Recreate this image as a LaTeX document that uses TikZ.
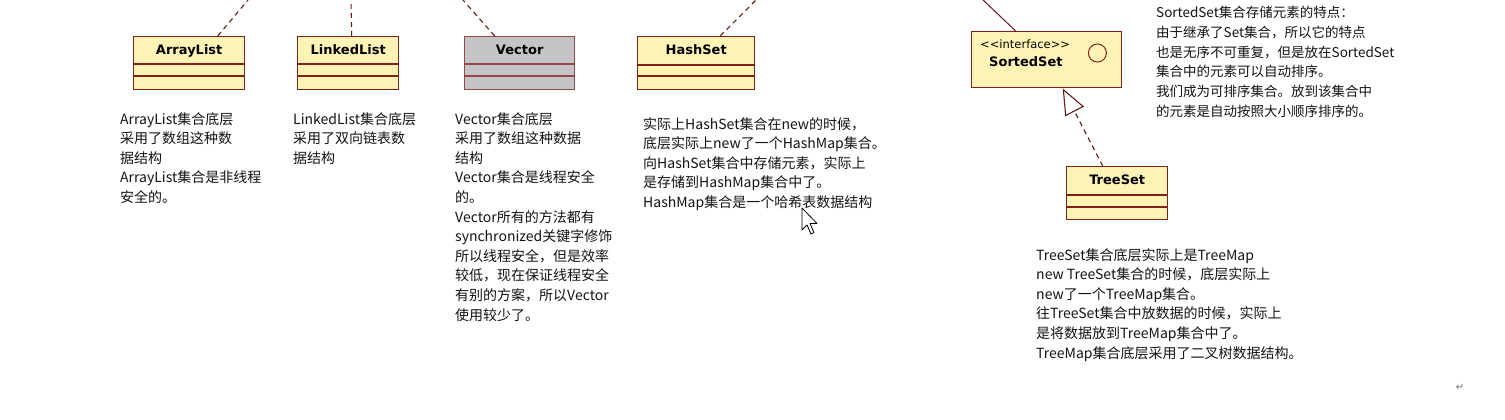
\documentclass[tikz,border=0pt]{standalone}
\usepackage{fontspec}
\setmainfont{DejaVu Sans}
\newfontfamily\cjkfont{Noto Sans CJK SC}
\usetikzlibrary{arrows.meta}
\definecolor{umlfill}{RGB}{255,244,182}
\definecolor{umlline}{RGB}{130,34,24}
\definecolor{vecfill}{RGB}{196,196,198}
\definecolor{vecline}{RGB}{150,70,70}
\definecolor{txt}{RGB}{20,20,20}
\begin{document}
\begin{tikzpicture}[x=1pt,y=-1pt,
 classbox/.style={draw=umlline, fill=umlfill, line width=1.4pt, inner sep=0pt, anchor=north west},
 vecbox/.style={classbox, draw=vecline, fill=vecfill},
 titletext/.style={font=\fontsize{13}{15}\selectfont\bfseries, text=black, anchor=base, inner sep=0pt},
 note/.style={font=\cjkfont\fontsize{14}{19.6}\selectfont, text=txt, align=left, anchor=north west, inner sep=0pt},
 dep/.style={draw=umlline!80!black, line width=1.1pt, dash pattern=on 5pt off 4pt},
 assoc/.style={draw=umlline!80!black, line width=1pt},
 divider/.style={draw=umlline, line width=1.2pt},
 vdivider/.style={draw=vecline, line width=1.2pt}]
\fill[white] (0,0) rectangle (1505,420);
\useasboundingbox (0,0) rectangle (1505,420);

% ArrayList
\node[classbox, minimum width=111, minimum height=53] (arraylist) at (133,36) {};
\draw[divider] ([yshift=-28]arraylist.north west) -- ([yshift=-28]arraylist.north east);
\draw[divider] ([yshift=-40]arraylist.north west) -- ([yshift=-40]arraylist.north east);
\node[titletext] (arraylisttitle) at ([yshift=-18.5]arraylist.north) {ArrayList};

% LinkedList
\node[classbox, minimum width=101, minimum height=53] (linkedlist) at (297,36) {};
\draw[divider] ([yshift=-28]linkedlist.north west) -- ([yshift=-28]linkedlist.north east);
\draw[divider] ([yshift=-40]linkedlist.north west) -- ([yshift=-40]linkedlist.north east);
\node[titletext] (linkedlisttitle) at ([yshift=-18.5]linkedlist.north) {LinkedList};

% Vector
\node[vecbox, minimum width=110, minimum height=53] (vector) at (464,36) {};
\draw[vdivider] ([yshift=-28]vector.north west) -- ([yshift=-28]vector.north east);
\draw[vdivider] ([yshift=-40]vector.north west) -- ([yshift=-40]vector.north east);
\node[titletext] (vectortitle) at ([yshift=-18.5]vector.north) {Vector};

% HashSet
\node[classbox, minimum width=117, minimum height=53] (hashset) at (637,36) {};
\draw[divider] ([yshift=-29]hashset.north west) -- ([yshift=-29]hashset.north east);
\draw[divider] ([yshift=-40]hashset.north west) -- ([yshift=-40]hashset.north east);
\node[titletext] (hashsettitle) at ([yshift=-18.5]hashset.north) {HashSet};

% SortedSet
\node[classbox, minimum width=150, minimum height=56] (sortedset) at (971,31) {};
\node[font=\fontsize{11.5}{13}\selectfont, text=black, anchor=base west, inner sep=0pt] (iface) at ([xshift=9,yshift=-18]sortedset.north west) {{<}{<}interface{>}{>}};
\node[font=\fontsize{13}{15}\selectfont\bfseries, text=black, anchor=base west, inner sep=0pt] (sortedsettitle) at ([xshift=18,yshift=-35.5]sortedset.north west) {SortedSet};
\node[circle, draw=umlline, fill=umlfill, line width=1pt, minimum size=18, inner sep=0pt] (ifacecircle) at ([xshift=-25,yshift=-22]sortedset.north east) {};

% TreeSet
\node[classbox, minimum width=101, minimum height=53] (treeset) at (1066,166) {};
\draw[divider] ([yshift=-29]treeset.north west) -- ([yshift=-29]treeset.north east);
\draw[divider] ([yshift=-41]treeset.north west) -- ([yshift=-41]treeset.north east);
\node[titletext] (treesettitle) at ([yshift=-18.5]treeset.north) {TreeSet};

% connectors
\coordinate (altop) at (248,0);
\coordinate (lltop) at (351,0);
\coordinate (vtop) at (463,0);
\coordinate (hstop) at (756,0);
\coordinate (sstop) at (983,0);
\draw[dep] ([xshift=28.5]arraylist.north) -- (altop);
\draw[dep] ([xshift=3.5]linkedlist.north) -- (lltop);
\draw[dep] ([xshift=-25]vector.north) -- (vtop);
\draw[dep] ([xshift=24]hashset.north) -- (hstop);
\draw[assoc] ([xshift=-31]sortedset.north) -- (sstop);
\draw[dep, -{Triangle[open, fill=white, length=26pt, width=21pt]}] ([xshift=-14.5]treeset.north) -- ([xshift=16]sortedset.south);

% notes
\node[note] (arraylistnote) at (120,112) {ArrayList集合底层\\采用了数组这种数\\据结构\\ArrayList集合是非线程\\安全的。};
\node[note] (linkedlistnote) at (293,112) {LinkedList集合底层\\采用了双向链表数\\据结构};
\node[note] (vectornote) at (455,112) {Vector集合底层\\采用了数组这种数据\\结构\\Vector集合是线程安全\\的。\\Vector所有的方法都有\\synchronized关键字修饰\\所以线程安全，但是效率\\较低，现在保证线程安全\\有别的方案，所以Vector\\使用较少了。};
\node[note] (hashsetnote) at (643,117) {实际上HashSet集合在new的时候，\\底层实际上new了一个HashMap集合。\\向HashSet集合中存储元素，实际上\\是存储到HashMap集合中了。\\HashMap集合是一个哈希表数据结构};
\node[note, font=\cjkfont\fontsize{13.5}{19.8}\selectfont] (sortedsetnote) at (1156,6) {SortedSet集合存储元素的特点：\\由于继承了Set集合，所以它的特点\\也是无序不可重复，但是放在SortedSet\\集合中的元素可以自动排序。\\我们成为可排序集合。放到该集合中\\的元素是自动按照大小顺序排序的。};
\node[note] (treesetnote) at (1036,248) {TreeSet集合底层实际上是TreeMap\\new TreeSet集合的时候，底层实际上\\new了一个TreeMap集合。\\往TreeSet集合中放数据的时候，实际上\\是将数据放到TreeMap集合中了。\\TreeMap集合底层采用了二叉树数据结构。};

% mouse pointer
\draw[black, fill=white, line width=0.8pt, line join=round] (802,208) -- ++(0,22) -- ++(5,-5) -- ++(4,9) -- ++(3,-1.5) -- ++(-4,-9) -- ++(7,0) -- cycle;

% paragraph mark
\node[font=\fontsize{10}{12}\selectfont, text=black!55, inner sep=0pt] (retmark) at (1460,387) {↵};
\end{tikzpicture}
\end{document}
